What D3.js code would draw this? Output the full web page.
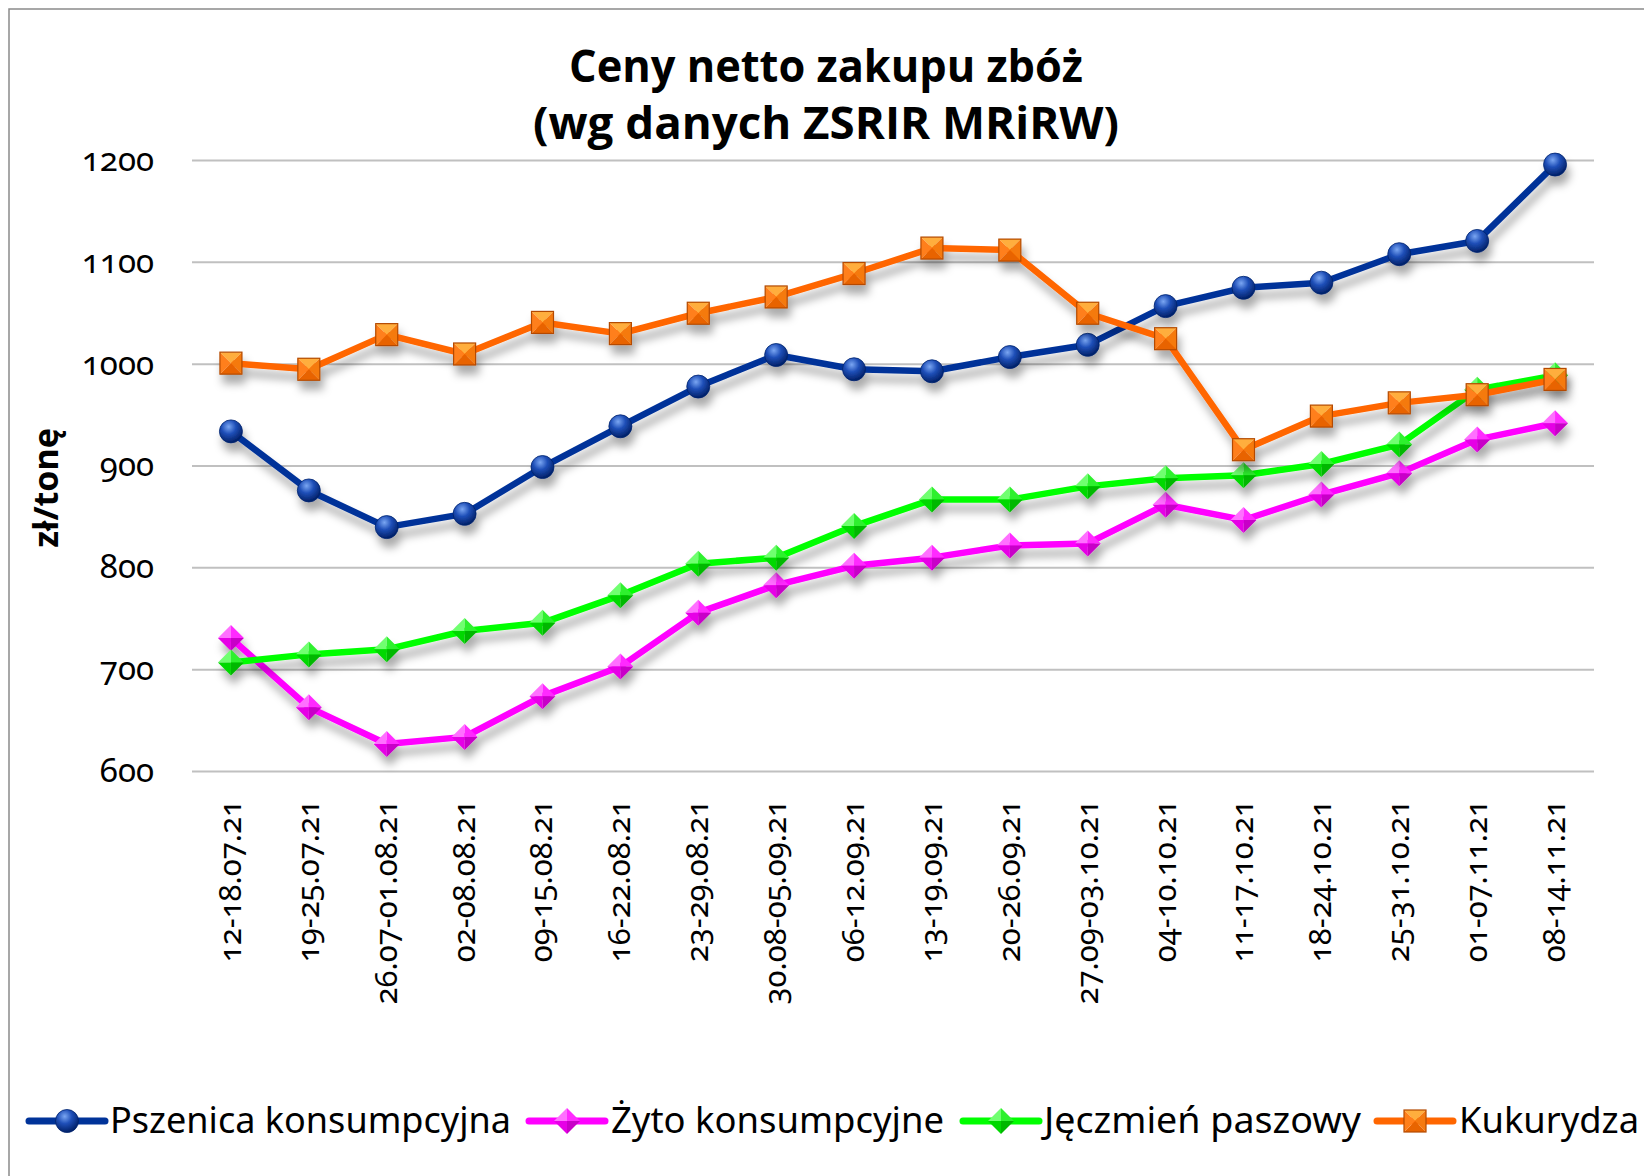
<!DOCTYPE html>
<html>
<head>
<meta charset="utf-8">
<script src="https://cdn.jsdelivr.net/npm/d3@7"></script>
<style>
  html, body { margin: 0; padding: 0; background: #fff; }
  svg { display: block; }
  .tick-y, .tick-x { font-family: "Noto Sans", sans-serif; font-variant-numeric: oldstyle-nums; }
</style>
</head>
<body>
<svg id="chart" width="1644" height="1176"></svg>
<script>
// dane z wykresu (zł/tonę)
const categories = ["12-18.07.21", "19-25.07.21", "26.07-01.08.21", "02-08.08.21", "09-15.08.21",
  "16-22.08.21", "23-29.08.21", "30.08-05.09.21", "06-12.09.21", "13-19.09.21", "20-26.09.21",
  "27.09-03.10.21", "04-10.10.21", "11-17.10.21", "18-24.10.21", "25-31.10.21", "01-07.11.21", "08-14.11.21"];

const pszenica = [934, 876, 840, 853, 899, 939, 978, 1009, 995, 993, 1007, 1019, 1057, 1075, 1080, 1108, 1121, 1196];
const zyto = [731, 663, 627, 634, 674, 703, 756, 783, 802, 810, 822, 824, 862, 847, 872, 893, 926, 942];
const jeczmien = [707, 715, 720, 738, 746, 773, 804, 810, 841, 867, 867, 880, 888, 891, 902, 921, 975, 989];
const kukurydza = [1001, 995, 1029, 1010, 1041, 1030, 1050, 1066, 1089, 1114, 1112, 1050, 1025, 916, 949, 962, 970, 985];

const seriesNames = ["Pszenica konsumpcyjna", "Żyto konsumpcyjne", "Jęczmień paszowy", "Kukurydza"];
const yTicks = [600, 700, 800, 900, 1000, 1100, 1200];

const series = [
  { name: seriesNames[0], values: pszenica, color: "#003399", marker: "circle" },
  { name: seriesNames[1], values: zyto, color: "#ff00ff", marker: "diamondM" },
  { name: seriesNames[2], values: jeczmien, color: "#00ff00", marker: "diamondG" },
  { name: seriesNames[3], values: kukurydza, color: "#ff6600", marker: "square" }
];

const svg = d3.select("#chart");
const defs = svg.append("defs");

// gradient kulki
const rg = defs.append("radialGradient").attr("id", "gBlue")
  .attr("cx", "40%").attr("cy", "30%").attr("r", "70%");
rg.append("stop").attr("offset", "0%").attr("stop-color", "#7aa6f2");
rg.append("stop").attr("offset", "45%").attr("stop-color", "#1f4fb8");
rg.append("stop").attr("offset", "100%").attr("stop-color", "#001f66");

// cień pod liniami
const flt = defs.append("filter").attr("id", "shadow")
  .attr("x", "-10%").attr("y", "-20%").attr("width", "120%").attr("height", "160%");
flt.append("feDropShadow").attr("dx", 3).attr("dy", 9).attr("stdDeviation", 4)
  .attr("flood-color", "#000").attr("flood-opacity", 0.33);

// ramka
svg.append("rect")
  .attr("x", 9).attr("y", 9).attr("width", 1700).attr("height", 1250)
  .attr("fill", "none").attr("stroke", "#8a8a8a").attr("stroke-width", 1.5);

const x = d3.scaleBand().domain(categories).range([192, 1594]);
const y = d3.scaleLinear().domain([600, 1200]).range([771.5, 160.5]);
const cx = d => x(d) + x.bandwidth() / 2;

// tytuł
function fitText(sel, w) {
  sel.attr("textLength", w).attr("lengthAdjust", "spacingAndGlyphs");
}
const title = svg.append("g")
  .attr("font-family", "'Open Sans', sans-serif")
  .attr("font-weight", "bold")
  .attr("font-size", 44)
  .attr("text-anchor", "middle")
  .attr("fill", "#000");
title.append("text").attr("x", 826).attr("y", 82).text("Ceny netto zakupu zbóż").call(fitText, 514);
title.append("text").attr("x", 826).attr("y", 139).text("(wg danych ZSRIR MRiRW)").call(fitText, 586);

// siatka
svg.append("g")
  .selectAll("line")
  .data(yTicks)
  .join("line")
  .attr("x1", x.range()[0]).attr("x2", x.range()[1])
  .attr("y1", d => y(d)).attr("y2", d => y(d))
  .attr("stroke", "#c0c0c0").attr("stroke-width", 2);

// oś Y
const yAxis = svg.append("g")
  .attr("transform", "translate(154,0)")
  .call(d3.axisLeft(y).tickValues(yTicks).tickSize(0).tickPadding(0).tickFormat(d3.format("d")));
yAxis.select(".domain").remove();
yAxis.selectAll("text")
  .attr("class", "tick-y")
  .attr("font-size", 33)
  .attr("fill", "#000")
  .attr("dy", "0.3em");

svg.append("text")
  .attr("transform", "translate(58,488) rotate(-90)")
  .attr("text-anchor", "middle")
  .attr("font-family", "'Noto Sans', sans-serif")
  .attr("font-weight", "bold")
  .attr("font-size", 34)
  .text("zł/tonę");

// oś X
const xAxis = svg.append("g")
  .attr("transform", "translate(0,800)")
  .call(d3.axisBottom(x).tickSize(0).tickPadding(0));
xAxis.select(".domain").remove();
xAxis.selectAll("text")
  .attr("class", "tick-x")
  .attr("font-size", 31)
  .attr("fill", "#000")
  .attr("text-anchor", "end")
  .attr("transform", "rotate(-90)")
  .attr("x", 0).attr("y", 0)
  .attr("dy", "0.32em");

// znaczniki
function drawMarker(g, type) {
  if (type === "circle") {
    g.append("circle").attr("r", 11.5).attr("fill", "url(#gBlue)")
      .attr("stroke", "#00236e").attr("stroke-width", 0.8);
  } else if (type === "square") {
    const s = 11;
    const facets = [
      [[0, 0], [-s, -s], [s, -s], "#ffae3d"],
      [[0, 0], [s, -s], [s, s], "#f57a10"],
      [[0, 0], [s, s], [-s, s], "#e86400"],
      [[0, 0], [-s, s], [-s, -s], "#ff7f1a"]
    ];
    facets.forEach(f => g.append("path")
      .attr("d", `M${f[0]}L${f[1]}L${f[2]}Z`).attr("fill", f[3]));
    g.append("rect").attr("x", -s).attr("y", -s).attr("width", 2 * s).attr("height", 2 * s)
      .attr("fill", "none").attr("stroke", "#b44a00").attr("stroke-width", 1.2);
  } else {
    const w = 13, h = 13;
    const shades = type === "diamondM"
      ? ["#ff70ff", "#ff2aff", "#c800c8", "#e600e6"]
      : ["#70ff70", "#2ef02e", "#00b800", "#00d800"];
    const pts = [[0, -h], [w, 0], [0, h], [-w, 0]];
    const facets = [
      [pts[3], pts[0], shades[0]],
      [pts[0], pts[1], shades[1]],
      [pts[1], pts[2], shades[2]],
      [pts[2], pts[3], shades[3]]
    ];
    facets.forEach(f => g.append("path")
      .attr("d", `M0,0L${f[0]}L${f[1]}Z`).attr("fill", f[2]));
  }
}

const line = d3.line().x((d, i) => cx(categories[i])).y(d => y(d));

series.forEach(s => {
  const g = svg.append("g").attr("filter", "url(#shadow)");
  g.append("path")
    .datum(s.values)
    .attr("d", line)
    .attr("fill", "none")
    .attr("stroke", s.color)
    .attr("stroke-width", 6.5)
    .attr("stroke-linejoin", "round");
  g.selectAll("g.pt")
    .data(s.values)
    .join("g")
    .attr("class", "pt")
    .attr("transform", (d, i) => `translate(${cx(categories[i])},${y(d)})`)
    .each(function () { drawMarker(d3.select(this), s.marker); });
});

// legenda
const legendPos = [
  { sx: 29, tx: 110, tw: 401 },
  { sx: 529, tx: 611, tw: 333 },
  { sx: 963, tx: 1044, tw: 317 },
  { sx: 1377, tx: 1459, tw: 180 }
];
const legend = svg.append("g");
series.forEach((s, i) => {
  const p = legendPos[i];
  const g = legend.append("g");
  g.append("line")
    .attr("x1", p.sx).attr("x2", p.sx + 76)
    .attr("y1", 1121).attr("y2", 1121)
    .attr("stroke", s.color).attr("stroke-width", 7).attr("stroke-linecap", "round");
  const m = g.append("g").attr("transform", `translate(${p.sx + 38},1121)`);
  drawMarker(m, s.marker);
  g.append("text")
    .attr("x", p.tx).attr("y", 1133)
    .attr("font-family", "'Noto Sans', sans-serif")
    .attr("font-size", 37)
    .attr("fill", "#000")
    .text(s.name)
    .call(fitText, p.tw);
});
</script>
</body>
</html>
